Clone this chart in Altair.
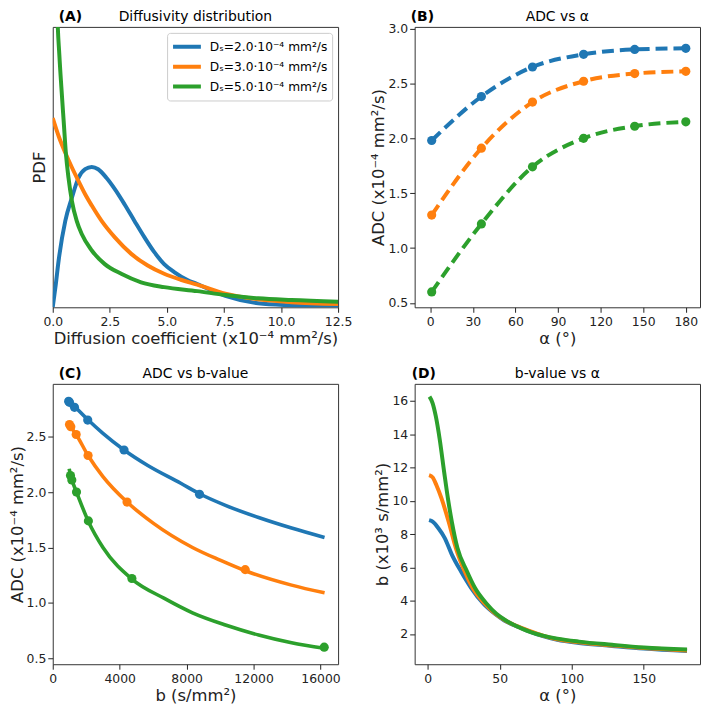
import altair as alt
import pandas as pd

FONT = "DejaVu Sans"
COLORS = ["#1f77b4", "#ff7f0e", "#2ca02c"]
SERIES = ["Dₛ=2.0·10⁻⁴ mm²/s", "Dₛ=3.0·10⁻⁴ mm²/s", "Dₛ=5.0·10⁻⁴ mm²/s"]

# ---------------- Panel A: diffusivity distribution (PDF) ----------------
A_X_BLUE = [0, 0.12, 0.26, 0.55, 0.84, 1.13, 1.42, 1.71, 1.99, 2.35, 2.72, 3.15, 3.58,
            4.02, 4.45, 4.88, 5.32, 5.9, 6.33, 7.56, 9.0, 10.45, 12.5]
A_PDF_BLUE = [0, 0.036, 0.083, 0.152, 0.193, 0.228, 0.243, 0.247, 0.243, 0.228, 0.208,
              0.181, 0.152, 0.123, 0.097, 0.076, 0.062, 0.048, 0.041, 0.020, 0.007, 0.0035, 0.0015]
A_X_ORANGE = [0, 0.26, 0.55, 0.84, 1.13, 1.42, 1.71, 2.14, 2.72, 3.44, 4.16, 4.88, 5.61,
              6.33, 7.56, 9.0, 10.45, 12.5]
A_PDF_ORANGE = [0.333, 0.301, 0.272, 0.246, 0.222, 0.199, 0.179, 0.152, 0.123, 0.094,
                0.0735, 0.059, 0.0485, 0.040, 0.024, 0.014, 0.009, 0.0058]
A_X_GREEN = [0.1, 0.15, 0.2, 0.29, 0.38, 0.48, 0.58, 0.69, 0.84, 1.05, 1.27, 1.71, 2.28,
             3.0, 3.87, 4.88, 6.33, 7.56, 9.0, 10.45, 12.5]
A_PDF_GREEN = [0.80, 0.62, 0.52, 0.444, 0.386, 0.327, 0.269, 0.228, 0.187, 0.152, 0.129,
               0.100, 0.076, 0.059, 0.044, 0.0355, 0.0285, 0.0216, 0.0158, 0.0128, 0.0099]

# ---------------- Panel B: ADC vs alpha ----------------
B_ALPHA = [1, 36, 72, 108, 144, 180]
B_ADC_BLUE = [1.98, 2.38, 2.65, 2.765, 2.81, 2.82]
B_ADC_ORANGE = [1.30, 1.91, 2.33, 2.52, 2.59, 2.61]
B_ADC_GREEN = [0.60, 1.22, 1.74, 2.00, 2.11, 2.15]

# ---------------- Panel C: ADC vs b-value ----------------
C_B_BLUE_LINE = [950, 1300, 2090, 3000, 4260, 5680, 7650, 8770, 10320, 12300, 14270, 16240]
C_ADC_BLUE_LINE = [2.83, 2.775, 2.655, 2.53, 2.38, 2.24, 2.08, 1.985, 1.88, 1.77, 1.675, 1.59]
C_B_ORANGE_LINE = [1000, 1080, 1400, 2110, 3000, 4440, 6000, 8350, 10000, 11500, 14270, 16240]
C_ADC_ORANGE_LINE = [2.61, 2.59, 2.52, 2.33, 2.14, 1.91, 1.72, 1.50, 1.385, 1.29, 1.16, 1.09]
C_B_GREEN_LINE = [985, 1060, 1140, 1420, 2130, 3000, 4730, 6670, 8350, 10320, 12300, 14270, 16220]
C_ADC_GREEN_LINE = [2.21, 2.15, 2.11, 2.00, 1.735, 1.50, 1.215, 1.04, 0.91, 0.80, 0.71, 0.64, 0.59]
C_PT_B_BLUE = [8770, 4260, 2090, 1300, 1000, 950]
C_PT_B_ORANGE = [11500, 4440, 2110, 1400, 1080, 1000]
C_PT_B_GREEN = [16220, 4730, 2130, 1420, 1140, 1060]

# ---------------- Panel D: b-value vs alpha (x10^3) ----------------
D_A_BLUE = [1, 3.5, 7.5, 11.9, 16.8, 23.0, 30.0, 38.9, 46.6, 53.2, 63.1, 70, 80, 90, 105, 128, 150, 180]
D_B_BLUE = [8.84, 8.75, 8.35, 7.76, 6.77, 5.78, 4.79, 3.80, 3.21, 2.81, 2.42, 2.17, 1.87, 1.65,
            1.46, 1.28, 1.12, 0.97]
D_A_ORANGE = [1, 3.5, 6.2, 9.7, 14.6, 19.6, 25.6, 31.1, 39.9, 47.0, 53.9, 62, 70, 80, 90, 105, 128, 150, 180]
D_B_ORANGE = [11.55, 11.41, 10.92, 10.13, 8.74, 7.16, 5.78, 4.79, 3.80, 3.21, 2.81, 2.47, 2.20,
              1.90, 1.68, 1.50, 1.31, 1.15, 1.01]
D_A_GREEN = [1.3, 3.5, 5.7, 8.4, 11.5, 14.1, 16.8, 20.7, 27.2, 32.7, 41.1, 47.7, 54.3, 65.4, 72,
             80, 90, 105, 128, 150, 180]
D_B_GREEN = [16.26, 15.86, 15.07, 13.69, 11.71, 10.13, 8.74, 7.16, 5.78, 4.79, 3.80, 3.21, 2.81,
             2.32, 2.10, 1.90, 1.72, 1.54, 1.35, 1.19, 1.06]

W, H = 287, 282
color_scale = alt.Scale(domain=SERIES, range=COLORS)


def long(xs_list, ys_list, xname, yname):
    rows = []
    for s, xs, ys in zip(SERIES, xs_list, ys_list):
        for x, y in zip(xs, ys):
            rows.append({"series": s, xname: x, yname: y})
    return pd.DataFrame(rows)


def headers(label, title, label_dx):
    lab = alt.Chart(pd.DataFrame({"t": [label]})).mark_text(
        align="left", baseline="alphabetic", fontSize=14, fontWeight="bold", font=FONT, color="#000"
    ).encode(text="t:N", x=alt.value(label_dx), y=alt.value(-5.5))
    tit = alt.Chart(pd.DataFrame({"t": [title]})).mark_text(
        align="center", baseline="alphabetic", fontSize=14, font=FONT, color="#000"
    ).encode(text="t:N", x=alt.value(W / 2), y=alt.value(-5.5))
    return [lab, tit]


def color_enc(legend):
    if legend is None:
        return alt.Color("series:N", scale=color_scale, legend=None)
    return alt.Color("series:N", scale=color_scale, legend=legend)


# ---- A ----
dfA = long([A_X_BLUE, A_X_ORANGE, A_X_GREEN], [A_PDF_BLUE, A_PDF_ORANGE, A_PDF_GREEN], "D", "pdf")
legendA = alt.Legend(
    title=None, orient="top-right", offset=6, symbolType="stroke", symbolStrokeWidth=4,
    symbolSize=784, clipHeight=20, labelFontSize=12.3, labelFont=FONT, labelColor="#000",
    rowPadding=0, padding=4, fillColor="white", strokeColor="#cccccc", cornerRadius=3,
    labelOffset=7, labelLimit=0,
)
lineA = alt.Chart(dfA).mark_line(strokeWidth=4, interpolate="monotone", clip=True).encode(
    x=alt.X("D:Q", scale=alt.Scale(domain=[0, 12.5], nice=False, zero=False),
            axis=alt.Axis(values=[0, 2.5, 5, 7.5, 10, 12.5], format=".1f",
                          title="Diffusion coefficient (x10⁻⁴ mm²/s)")),
    y=alt.Y("pdf:Q", scale=alt.Scale(domain=[0, 0.4935], nice=False),
            axis=alt.Axis(title="PDF", labels=False, ticks=False, titlePadding=5)),
    color=color_enc(legendA),
    detail="series:N",
)
chartA = alt.layer(lineA, *headers("(A)", "Diffusivity distribution", 6)).properties(width=W, height=H)

# ---- B ----
dfB = long([B_ALPHA] * 3, [B_ADC_BLUE, B_ADC_ORANGE, B_ADC_GREEN], "alpha", "adc")
xB = alt.X("alpha:Q", scale=alt.Scale(domain=[-11, 190], nice=False, zero=False),
           axis=alt.Axis(values=[0, 30, 60, 90, 120, 150, 180], title="α (°)"))
yB = alt.Y("adc:Q", scale=alt.Scale(domain=[0.46, 3.015], nice=False, zero=False),
           axis=alt.Axis(values=[0.5, 1.0, 1.5, 2.0, 2.5, 3.0], format=".1f",
                         title="ADC (x10⁻⁴ mm²/s)"))
lineB = alt.Chart(dfB).mark_line(strokeWidth=4, strokeDash=[12, 6], interpolate="monotone").encode(
    x=xB, y=yB, color=color_enc(None))
ptB = alt.Chart(dfB).mark_circle(size=85, opacity=1).encode(x=xB, y=yB, color=color_enc(None))
chartB = alt.layer(lineB, ptB, *headers("(B)", "ADC vs α", -4)).properties(width=W, height=H)

# ---- C ----
dfC = long([C_B_BLUE_LINE, C_B_ORANGE_LINE, C_B_GREEN_LINE],
           [C_ADC_BLUE_LINE, C_ADC_ORANGE_LINE, C_ADC_GREEN_LINE], "b", "adc")
dfCp = long([C_PT_B_BLUE, C_PT_B_ORANGE, C_PT_B_GREEN],
            [B_ADC_BLUE, B_ADC_ORANGE, B_ADC_GREEN], "b", "adc")
xC = alt.X("b:Q", scale=alt.Scale(domain=[0, 17050], nice=False, zero=False),
           axis=alt.Axis(values=[0, 4000, 8000, 12000, 16000], format="d", title="b (s/mm²)"))
yC = alt.Y("adc:Q", scale=alt.Scale(domain=[0.446, 2.977], nice=False, zero=False),
           axis=alt.Axis(values=[0.5, 1.0, 1.5, 2.0, 2.5], format=".1f",
                         title="ADC (x10⁻⁴ mm²/s)"))
lineC = alt.Chart(dfC).mark_line(strokeWidth=3.6, interpolate="monotone").encode(
    x=xC, y=yC, color=color_enc(None))
ptC = alt.Chart(dfCp).mark_circle(size=85, opacity=1).encode(x=xC, y=yC, color=color_enc(None))
chartC = alt.layer(lineC, ptC, *headers("(C)", "ADC vs b-value", 6)).properties(width=W, height=H)

# ---- D ----
dfD = long([D_A_BLUE, D_A_ORANGE, D_A_GREEN], [D_B_BLUE, D_B_ORANGE, D_B_GREEN], "alpha", "bval")
lineD = alt.Chart(dfD).mark_line(strokeWidth=4, interpolate="monotone").encode(
    x=alt.X("alpha:Q", scale=alt.Scale(domain=[-9, 189], nice=False, zero=False),
            axis=alt.Axis(values=[0, 50, 100, 150], title="α (°)")),
    y=alt.Y("bval:Q", scale=alt.Scale(domain=[0.18, 17.03], nice=False, zero=False),
            axis=alt.Axis(values=[2, 4, 6, 8, 10, 12, 14, 16], title="b (x10³ s/mm²)")),
    color=color_enc(None),
)
chartD = alt.layer(lineD, *headers("(D)", "b-value vs α", -3)).properties(width=W, height=H)

chart = (
    alt.concat(chartA, chartB, chartC, chartD, columns=2, spacing=77, bounds="flush")
    .resolve_scale(color="independent")
    .resolve_legend(color="independent")
    .properties(padding={"left": 0, "top": 0, "right": 0, "bottom": 0})
    .configure(font=FONT)
    .configure_view(stroke="#333333", strokeWidth=1)
    .configure_axis(
        grid=False, domain=False, tickSize=5, tickColor="#222222", tickWidth=1,
        labelFontSize=12.5, labelFont=FONT, labelColor="#222222", labelPadding=3,
        labelFlush=False, labelOverlap=False,
        titleFont=FONT, titleFontSize=16.5, titleFontWeight="normal", titleColor="#222222",
        titlePadding=3,
    )
    .configure_axisY(labelPadding=2, titlePadding=1)
)

chart.save("out.html", embed_options={"renderer": "svg", "actions": False})
